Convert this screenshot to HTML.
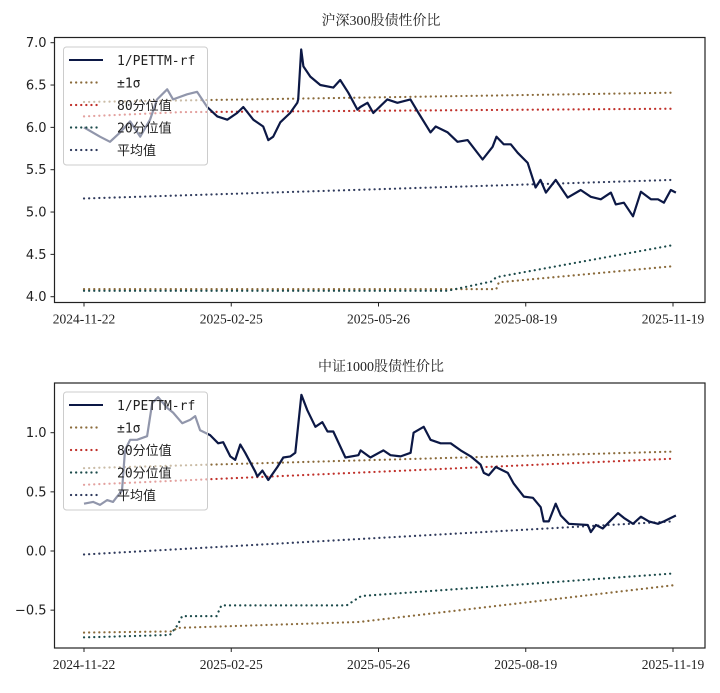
<!DOCTYPE html>
<html><head><meta charset="utf-8">
<style>
html,body{margin:0;padding:0;background:#fff;}
svg{display:block;}
.tt{font-family:"Liberation Serif","Noto Serif CJK SC",serif;font-size:14px;fill:#222;}
.yt{font-family:"DejaVu Sans","Liberation Sans",sans-serif;font-size:13px;fill:#222;}
.xt{font-family:"Liberation Serif",serif;font-size:13.5px;fill:#222;}
.lg{font-family:"DejaVu Sans Mono","Liberation Mono","Noto Sans CJK SC",monospace;font-size:13px;fill:#222;}
</style></head>
<body>
<svg id="chart" width="720" height="693" viewBox="0 0 720 693" xmlns="http://www.w3.org/2000/svg"></svg>
<script>
// ---- shared x ticks (trading-day index) ----
const xTickIdx = [0, 60, 120, 180, 240];
const xTickLabels = ["2024-11-22", "2025-02-25", "2025-05-26", "2025-08-19", "2025-11-19"];

// ---- Top chart: 沪深300 ----
const topX = [0,6.5,10.6,14.7,18.8,22.9,26.9,29.8,33.9,36.3,42,46.1,50.2,54.3,58.4,62.4,64.9,69,73,75.1,77.1,80,84,86.9,87.3,88.5,89.4,92.2,96.3,101.6,104.4,107.7,111.4,112.6,115.5,117.9,123.6,127.7,133,136.3,141.2,143.3,148.2,152.2,156.3,162.4,166.5,168.1,171,173.9,176.7,180.8,184,186,188.2,192.2,197.1,202.4,206.5,210.6,214.7,216.7,220,223.7,226.9,231,233.9,236.3,239.1,241.2];
const topY = [6.00,5.89,5.83,5.94,6.07,5.89,6.09,6.33,6.45,6.33,6.39,6.42,6.24,6.13,6.09,6.17,6.24,6.09,6.01,5.85,5.89,6.06,6.17,6.29,6.33,6.92,6.72,6.60,6.50,6.47,6.56,6.41,6.21,6.24,6.29,6.17,6.33,6.29,6.33,6.17,5.94,6.01,5.94,5.83,5.85,5.62,5.77,5.89,5.80,5.80,5.70,5.58,5.29,5.38,5.23,5.38,5.17,5.26,5.18,5.15,5.23,5.09,5.11,4.95,5.24,5.15,5.15,5.11,5.26,5.23];
const topPlus1X = [0,240], topPlus1Y = [6.30,6.41];
const topP80X = [0,40,240], topP80Y = [6.13,6.18,6.22];
const topMeanX = [0,240], topMeanY = [5.16,5.38];
const topP20X = [0,148,166,168,240], topP20Y = [4.07,4.07,4.18,4.23,4.61];
const topMinus1X = [0,168,169,240], topMinus1Y = [4.09,4.09,4.17,4.36];
const topYTicks = [4.0,4.5,5.0,5.5,6.0,6.5,7.0];
const topYTickLabels = ["4.0","4.5","5.0","5.5","6.0","6.5","7.0"];

// ---- Bottom chart: 中证1000 ----
const botX = [0,3.7,6.5,9.4,11.8,13.5,15.5,16.7,18.8,21.6,25.7,27.8,30.2,33.9,36.3,40,43.3,45.3,47.3,51.4,54.7,56.7,59.6,61.6,63.7,65.7,69.8,70.6,72.7,75.1,78.8,81.2,84.1,86.1,88.6,91,94.3,97.1,99.2,101.6,106.5,111.8,112.7,116.7,122,124.9,129,133.1,134.3,138.4,141.2,145.3,149.4,153.5,157.6,161.6,162.9,164.9,167.8,172.7,175.1,179.2,182.9,186.1,187.3,189.4,192.2,194.3,197.6,205.3,206.5,208.6,211.4,214.7,217.6,220,223.7,226.9,230.2,233.9,236.3,239.2,241.2];
const botY = [0.40,0.415,0.39,0.43,0.415,0.46,0.51,0.85,0.94,0.94,0.97,1.25,1.30,1.21,1.17,1.08,1.11,1.14,1.02,0.98,0.91,0.92,0.80,0.77,0.90,0.83,0.67,0.63,0.68,0.60,0.71,0.79,0.80,0.83,1.32,1.19,1.05,1.09,1.01,1.01,0.79,0.81,0.85,0.79,0.85,0.81,0.80,0.83,1.00,1.05,0.94,0.91,0.91,0.85,0.80,0.73,0.66,0.64,0.71,0.66,0.57,0.46,0.45,0.37,0.25,0.25,0.40,0.30,0.23,0.22,0.16,0.22,0.19,0.26,0.32,0.28,0.23,0.29,0.25,0.23,0.25,0.28,0.30];
const botPlus1X = [0,240], botPlus1Y = [0.70,0.84];
const botP80X = [0,240], botP80Y = [0.56,0.78];
const botMeanX = [0,240], botMeanY = [-0.03,0.25];
const botP20X = [0,35,38,40,54,56,107,113,240], botP20Y = [-0.73,-0.71,-0.63,-0.55,-0.55,-0.46,-0.46,-0.38,-0.19];
const botMinus1X = [0,36,38,112,240], botMinus1Y = [-0.69,-0.68,-0.65,-0.60,-0.29];
const botYTicks = [-0.5,0.0,0.5,1.0];
const botYTickLabels = ["\u22120.5","0.0","0.5","1.0"];

const legendLabels = ["1/PETTM-rf","\u00b11\u03c3","80\u5206\u4f4d\u503c","20\u5206\u4f4d\u503c","\u5e73\u5747\u503c"];
const C = {line:"#0c1845", plus:"#8a6a3a", p80:"#c0302a", p20:"#1b4a4a", mean:"#2f3a5c"};

const NS = "http://www.w3.org/2000/svg";
const svg = document.getElementById("chart");
function mk(tag, attrs, parent){const e=document.createElementNS(NS,tag);for(const k in attrs)e.setAttribute(k,attrs[k]);(parent||svg).appendChild(e);return e;}

function drawPanel(cfg){
  const g = mk("g",{});
  
  
  const L=54.5,R=705,T=cfg.top,B=cfg.bottom;
  const x0px=84, x1px=673;
  const xs = v => x0px + (v - xTickIdx[0])/(xTickIdx[xTickIdx.length-1]-xTickIdx[0])*(x1px-x0px);
  const ys = v => cfg.y0px + (v - cfg.y0)/(cfg.y1 - cfg.y0)*(cfg.y1px - cfg.y0px);
  const t = mk("text",{x:381,y:cfg.titleY,"text-anchor":"middle",class:"tt"},g);
  t.textContent = cfg.title;
  
  
  function dotted(X,Y,color,name){
    const p = mk("polyline",{points:X.map((v,i)=>xs(v).toFixed(1)+","+ys(Y[i]).toFixed(1)).join(" "),fill:"none",stroke:color,"stroke-width":2.2,"stroke-dasharray":"0.1 5","stroke-linecap":"round"},g);
    
    
  }
  dotted(cfg.plus1X,cfg.plus1Y,C.plus,"plus-1-sigma-line");
  dotted(cfg.minus1X,cfg.minus1Y,C.plus,"minus-1-sigma-line");
  dotted(cfg.p80X,cfg.p80Y,C.p80,"percentile-80-line");
  dotted(cfg.p20X,cfg.p20Y,C.p20,"percentile-20-line");
  dotted(cfg.meanX,cfg.meanY,C.mean,"mean-line");
  const s = mk("polyline",{points:cfg.X.map((v,i)=>xs(v).toFixed(1)+","+ys(cfg.Y[i]).toFixed(1)).join(" "),fill:"none",stroke:C.line,"stroke-width":2.2,"stroke-linejoin":"round"},g);
  
  
  const f = mk("rect",{x:L,y:T,width:R-L,height:B-T,fill:"none",stroke:"#222","stroke-width":1.2},g);
  
  
  cfg.yTicks.forEach((v,i)=>{
    const y=ys(v);
    const tk = mk("line",{x1:L-4,x2:L,y1:y,y2:y,stroke:"#222","stroke-width":1},g);
    
    
    const tx = mk("text",{x:L-8,y:y+4.5,"text-anchor":"end",class:"yt"},g);
    tx.textContent = cfg.yLabels[i];
    
    
  });
  xTickIdx.forEach((v,i)=>{
    const x=xs(v);
    const tk = mk("line",{x1:x,x2:x,y1:B,y2:B+4,stroke:"#222","stroke-width":1},g);
    
    
    const tx = mk("text",{x:x,y:B+21,"text-anchor":"middle",class:"xt"},g);
    tx.textContent = xTickLabels[i];
    
    
  });
  const lg = mk("g",{},g);
  
  
  const ly = cfg.legendTop;
  mk("rect",{x:63.5,y:ly,width:144,height:118,rx:3,fill:"rgba(255,255,255,0.55)",stroke:"#ccc","stroke-width":1},lg);
  const cols=[C.line,C.plus,C.p80,C.p20,C.mean];
  legendLabels.forEach((lab,i)=>{
    const yy = ly+13+i*22.5;
    const e = mk("g",{},lg);
    
    
    if(i===0) mk("line",{x1:69,x2:103,y1:yy,y2:yy,stroke:cols[i],"stroke-width":2},e);
    else mk("line",{x1:71,x2:101,y1:yy,y2:yy,stroke:cols[i],"stroke-width":2.2,"stroke-dasharray":"0.1 5","stroke-linecap":"round"},e);
    const tx = mk("text",{x:117,y:yy+5,class:"lg"},e);
    tx.textContent = lab;
  });
}

drawPanel({name:"hs300-panel",title:"\u6caa\u6df1300\u80a1\u503a\u6027\u4ef7\u6bd4",titleY:25,top:37.5,bottom:302.5,
  y0:4.0,y1:7.0,y0px:296.7,y1px:42.7,yTicks:topYTicks,yLabels:topYTickLabels,legendTop:47,
  X:topX,Y:topY,plus1X:topPlus1X,plus1Y:topPlus1Y,p80X:topP80X,p80Y:topP80Y,meanX:topMeanX,meanY:topMeanY,
  p20X:topP20X,p20Y:topP20Y,minus1X:topMinus1X,minus1Y:topMinus1Y});
drawPanel({name:"zz1000-panel",title:"\u4e2d\u8bc11000\u80a1\u503a\u6027\u4ef7\u6bd4",titleY:371,top:383,bottom:648,
  y0:0.0,y1:1.0,y0px:551,y1px:432.7,yTicks:botYTicks,yLabels:botYTickLabels,legendTop:392,
  X:botX,Y:botY,plus1X:botPlus1X,plus1Y:botPlus1Y,p80X:botP80X,p80Y:botP80Y,meanX:botMeanX,meanY:botMeanY,
  p20X:botP20X,p20Y:botP20Y,minus1X:botMinus1X,minus1Y:botMinus1Y});
</script>
</body></html>
